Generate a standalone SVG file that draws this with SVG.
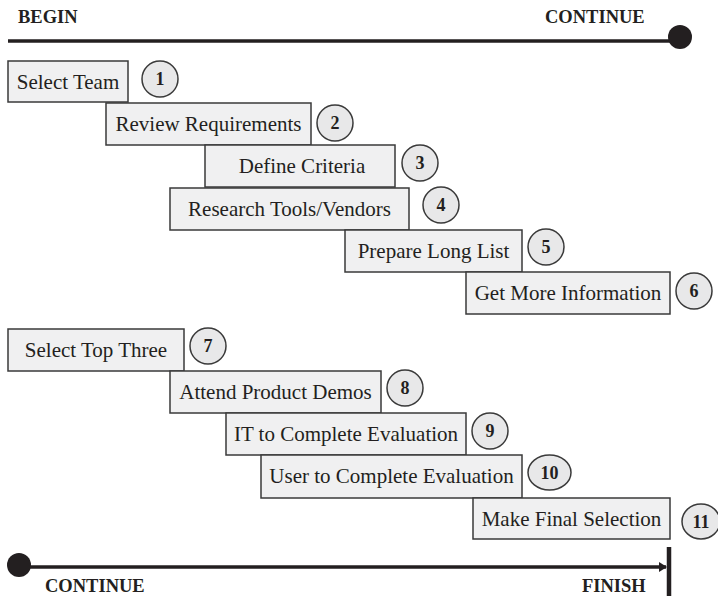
<svg xmlns="http://www.w3.org/2000/svg" width="718" height="596" viewBox="0 0 718 596">
<style>
.box{fill:#f0f0f1;stroke:#3a3a3a;stroke-width:1.5}
.num{fill:#e8e8e9;stroke:#3a3a3a;stroke-width:1.5}
.lbl{font-family:"Liberation Serif","Times New Roman",serif;font-size:21px;fill:#231f20;text-anchor:middle}
.n{font-family:"Liberation Serif","Times New Roman",serif;font-size:18px;font-weight:bold;fill:#231f20;text-anchor:middle}
.hd{font-family:"Liberation Serif","Times New Roman",serif;font-size:18.5px;font-weight:bold;fill:#231f20}
.ln{stroke:#231f20;stroke-width:3.5;fill:none}
</style>
<defs>
<marker id="arr" markerWidth="8" markerHeight="10" refX="7" refY="5" orient="auto" markerUnits="userSpaceOnUse">
<path d="M0,0 L8,5 L0,10 Z" fill="#231f20"/>
</marker>
</defs>
<g id="connectors">
<line class="ln" x1="8" y1="41" x2="680" y2="41"/>
<circle cx="680" cy="37" r="12" fill="#231f20"/>
<line class="ln" x1="19" y1="567" x2="666" y2="567" marker-end="url(#arr)"/>
<circle cx="19" cy="565" r="12" fill="#231f20"/>
<line x1="669" y1="547" x2="669" y2="596" stroke="#231f20" stroke-width="4.5"/>
</g>
<g id="labels">
<text class="hd" x="18" y="23">BEGIN</text>
<text class="hd" x="545" y="23">CONTINUE</text>
<text class="hd" x="45" y="592">CONTINUE</text>
<text class="hd" x="582" y="592">FINISH</text>
</g>
<g id="step1"><rect class="box" x="8" y="61" width="120" height="41"/><text class="lbl" x="68" y="89">Select Team</text><circle class="num" cx="160" cy="79" r="18"/><text class="n" x="160" y="85">1</text></g>
<g id="step2"><rect class="box" x="106" y="103" width="205" height="42"/><text class="lbl" x="208.5" y="131">Review Requirements</text><circle class="num" cx="335" cy="123" r="18"/><text class="n" x="335" y="129">2</text></g>
<g id="step3"><rect class="box" x="205" y="145" width="190" height="42"/><text class="lbl" x="302" y="173">Define Criteria</text><circle class="num" cx="420" cy="163" r="18"/><text class="n" x="420" y="169">3</text></g>
<g id="step4"><rect class="box" x="170" y="188" width="239" height="42"/><text class="lbl" x="289.5" y="216">Research Tools/Vendors</text><circle class="num" cx="441" cy="205" r="18"/><text class="n" x="441" y="211">4</text></g>
<g id="step5"><rect class="box" x="345" y="230" width="177" height="42"/><text class="lbl" x="433.5" y="258">Prepare Long List</text><circle class="num" cx="546" cy="247" r="18"/><text class="n" x="546" y="253">5</text></g>
<g id="step6"><rect class="box" x="466" y="272" width="204" height="42"/><text class="lbl" x="568" y="300">Get More Information</text><circle class="num" cx="694" cy="291" r="18"/><text class="n" x="694" y="297">6</text></g>
<g id="step7"><rect class="box" x="8" y="329" width="176" height="42"/><text class="lbl" x="96" y="357">Select Top Three</text><circle class="num" cx="208" cy="346" r="18"/><text class="n" x="208" y="352">7</text></g>
<g id="step8"><rect class="box" x="170" y="371" width="211" height="42"/><text class="lbl" x="275.5" y="399">Attend Product Demos</text><circle class="num" cx="405" cy="388" r="18"/><text class="n" x="405" y="394">8</text></g>
<g id="step9"><rect class="box" x="226" y="413" width="240" height="42"/><text class="lbl" x="346" y="441">IT to Complete Evaluation</text><circle class="num" cx="490" cy="431" r="18"/><text class="n" x="490" y="437">9</text></g>
<g id="step10"><rect class="box" x="261" y="455" width="261" height="43"/><text class="lbl" x="391.5" y="483">User to Complete Evaluation</text><ellipse class="num" cx="549.5" cy="472.5" rx="21.5" ry="17.5"/><text class="n" x="549.5" y="479">10</text></g>
<g id="step11"><rect class="box" x="473" y="498" width="197" height="41"/><text class="lbl" x="571.5" y="526">Make Final Selection</text><ellipse class="num" cx="701" cy="521.5" rx="19" ry="17.5"/><text class="n" x="701" y="528">11</text></g>
</svg>
